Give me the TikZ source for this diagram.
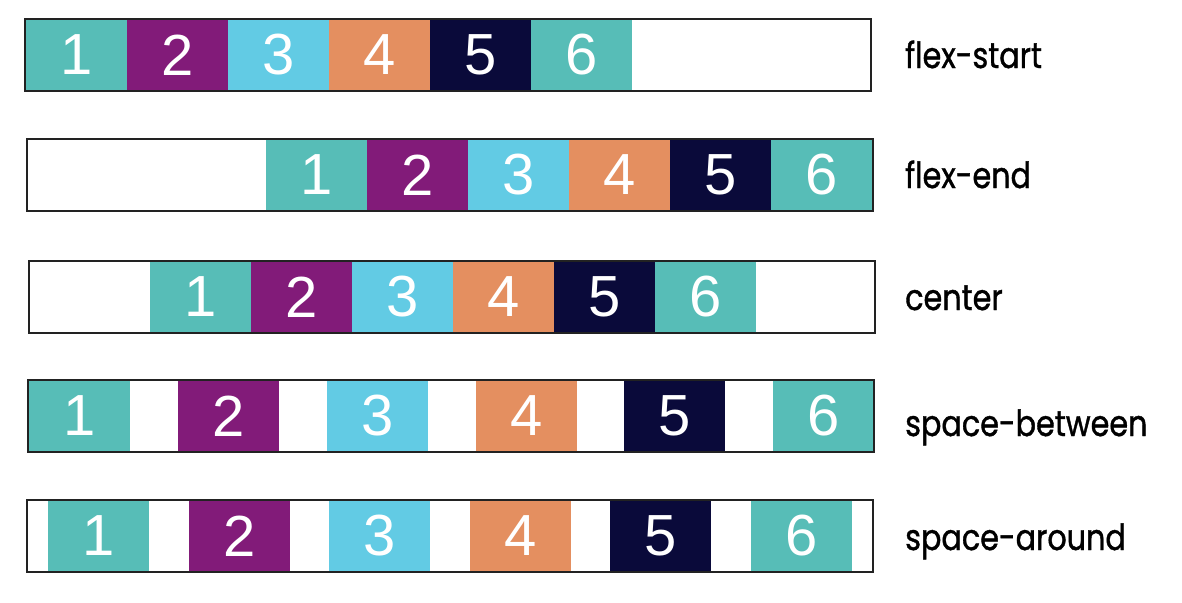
\documentclass[tikz,border=0pt]{standalone}
\usepackage{fontspec}
\setmainfont{Liberation Sans}
\newfontfamily\labelfont[FakeBold=1.2]{Poppins}
\definecolor{c1}{HTML}{57BDB7}
\definecolor{c2}{HTML}{821B79}
\definecolor{c3}{HTML}{62CBE4}
\definecolor{c4}{HTML}{E48F60}
\definecolor{c5}{HTML}{0A0A3A}
\definecolor{c6}{HTML}{57BDB7}
\definecolor{frame}{HTML}{222222}
\begin{document}
\begin{tikzpicture}[x=1pt,y=-1pt,
  bx/.style={anchor=west,minimum width=101pt,minimum height=72pt,inner sep=0pt,outer sep=0pt,
    text=white,font=\fontsize{58}{58}\selectfont},
  outer/.style={draw=frame,line width=2pt},
  lbl/.style={anchor=base west,inner sep=0pt,font=\labelfont\fontsize{36}{36}\selectfont}]
\useasboundingbox (0,0) rectangle (1182,602);
\fill[white] (0,0) rectangle (1182,602);
% row 1 flex-start
\foreach \x [count=\i] in {26,127,228,329,430,531}
  \node[bx,fill=c\i] (a\i) at (\x,55) {\i};
\draw[outer] (25,19) rectangle (871,91);
\node[lbl] (la) at (905,68) {\scalebox{0.84}[1]{flex-start}};
% row 2 flex-end
\foreach \x [count=\i] in {266,367,468,569,670,771}
  \node[bx,fill=c\i] (b\i) at (\x,175) {\i};
\draw[outer] (27,139) rectangle (873,211);
\node[lbl] (lb) at (905,188) {\scalebox{0.84}[1]{flex-end}};
% row 3 center
\foreach \x [count=\i] in {150,251,352,453,554,655}
  \node[bx,fill=c\i] (c\i) at (\x,297) {\i};
\draw[outer] (29,261) rectangle (875,333);
\node[lbl] (lc) at (905,310) {\scalebox{0.84}[1]{center}};
% row 4 space-between
\foreach \x [count=\i] in {29,178,327,476,624,773}
  \node[bx,fill=c\i] (d\i) at (\x,416) {\i};
\draw[outer] (28,380) rectangle (874,452);
\node[lbl] (ld) at (905,436) {\scalebox{0.84}[1]{space-between}};
% row 5 space-around
\foreach \x [count=\i] in {48,189,329,470,610,751}
  \node[bx,fill=c\i] (e\i) at (\x,536) {\i};
\draw[outer] (27,500) rectangle (873,572);
\node[lbl] (le) at (905,550) {\scalebox{0.84}[1]{space-around}};
\end{tikzpicture}
\end{document}
